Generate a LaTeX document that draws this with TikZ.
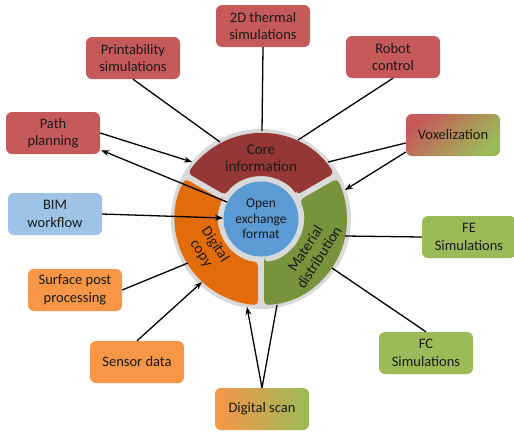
\documentclass[tikz,border=0pt]{standalone}
\usepackage{fontspec}
\setmainfont{Carlito}
\usetikzlibrary{arrows.meta}
\definecolor{secred}{HTML}{953735}
\definecolor{secorange}{HTML}{E36C0A}
\definecolor{secgreen}{HTML}{77933C}
\definecolor{ringgray}{HTML}{D9D9D9}
\definecolor{blueC}{HTML}{5B9BD5}
\definecolor{boxred}{HTML}{C65A5A}
\definecolor{boxgreen}{HTML}{9BBB59}
\definecolor{boxorange}{HTML}{F79646}
\definecolor{boxblue}{HTML}{9DC3E6}
\definecolor{txt}{HTML}{1A1A1A}
\begin{document}
\begin{tikzpicture}[x=1pt,y=1pt,
  box/.style={rounded corners=6pt, minimum width=94pt, minimum height=42pt, align=center,
    font=\fontsize{14.5}{17.5}\selectfont, text=txt, inner sep=2pt},
  sectortext/.style={align=center, font=\fontsize{15}{16.5}\selectfont, text=txt, inner sep=1pt},
  conn/.style={line width=1.3pt},
  arr/.style={conn, -{Stealth[length=8pt,width=6pt]}}]
\useasboundingbox (0,0) rectangle (514,-432);

% central ring
\begin{scope}[shift={(261,-219)}]
  \fill[ringgray] (0,0) circle[radius=90];
  \fill[secred, rounded corners=4pt] (34:43) -- (32:86) arc[start angle=32, end angle=148, radius=86]
     -- (146:43) arc[start angle=146, end angle=34, radius=43] -- cycle;
  \fill[secgreen, rounded corners=4pt] (-86:43) -- (-88:86) arc[start angle=-88, end angle=28, radius=86]
     -- (26:43) arc[start angle=26, end angle=-86, radius=43] -- cycle;
  \fill[secorange, rounded corners=4pt] (154:43) -- (152:86) arc[start angle=152, end angle=268, radius=86]
     -- (266:43) arc[start angle=266, end angle=154, radius=43] -- cycle;
  \fill[blueC] (0,0) circle[radius=37.5];
  \node[sectortext] (core) at (0,61) {Core\\information};
  \node[sectortext, rotate=-57] (digcopy) at (-53,-30) {Digital\\copy};
  \node[sectortext, rotate=57] (matdist) at (51,-34) {Material\\distribution};
  \node[align=center, font=\fontsize{13.5}{15.5}\selectfont, text=txt] (open) at (0,0) {Open\\exchange\\format};
  % endpoints on the ring
  \coordinate (eThermal) at (1,88);
  \coordinate (ePrint) at (-41,77);
  \coordinate (eRobot) at (37,79);
  \coordinate (ePathIn) at (-69,57);
  \coordinate (ePathOut) at (-34,17);
  \coordinate (eVoxA) at (67,57);
  \coordinate (eVoxB) at (84,29);
  \coordinate (eBIM) at (-38,1);
  \coordinate (eSurf) at (-73,-44);
  \coordinate (eSensor) at (-59,-63);
  \coordinate (eScanA) at (-14,-88);
  \coordinate (eScanB) at (16,-86);
  \coordinate (eFE) at (84,-17);
  \coordinate (eFC) at (71,-49);
\end{scope}

% boxes
\node[box, fill=boxred] (thermal) at (263,-26) {2D thermal\\simulations};
\node[box, fill=boxred] (print) at (133,-58) {Printability\\simulations};
\node[box, fill=boxred] (robot) at (393,-57) {Robot\\control};
\node[box, fill=boxred] (path) at (53,-133) {Path\\planning};
\node[box, top color=boxred, bottom color=boxgreen, shading angle=45] (vox) at (453,-135) {Voxelization};
\node[box, fill=boxblue] (bim) at (55,-214) {BIM\\workflow};
\node[box, fill=boxorange] (surf) at (75,-290) {Surface post\\processing};
\node[box, fill=boxorange] (sensor) at (137,-362) {Sensor data};
\node[box, left color=boxorange, right color=boxgreen] (scan) at (262,-409) {Digital scan};
\node[box, fill=boxgreen] (fe) at (469,-237) {FE\\Simulations};
\node[box, fill=boxgreen] (fc) at (426,-353) {FC\\Simulations};

% connectors
\draw[conn] (thermal.south) -- (eThermal);
\draw[conn] (print.south) -- (ePrint);
\draw[conn] (robot.south) -- (eRobot);
\draw[arr] (path.east) -- (ePathIn);
\draw[arr] (ePathOut) -- ([xshift=1pt,yshift=4pt]path.south east);
\draw[conn] ([yshift=-8pt]vox.west) -- (eVoxA);
\draw[arr] ([yshift=-17pt]vox.west) -- (eVoxB);
\draw[arr] (bim.east) -- (eBIM);
\draw[conn] (surf.east) -- (eSurf);
\draw[arr] (sensor.north) -- (eSensor);
\draw[arr] (scan.north) -- (eScanA);
\draw[conn] (scan.north) -- (eScanB);
\draw[conn] (fe.west) -- (eFE);
\draw[conn] (fc.north) -- (eFC);
\end{tikzpicture}
\end{document}
